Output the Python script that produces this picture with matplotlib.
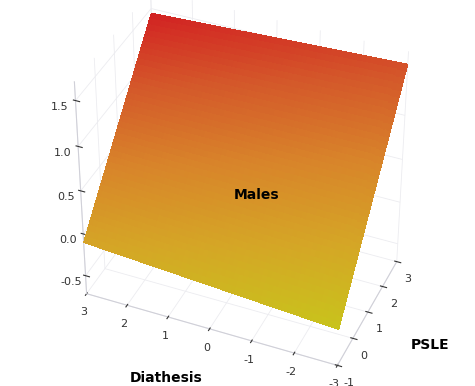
import numpy as np
import matplotlib.pyplot as plt
from matplotlib.colors import LinearSegmentedColormap, Normalize

plt.rcParams['axes.unicode_minus'] = False

# fitted surface:
# z = b0 + b1*Diathesis + b2*PSLE + b3*Diathesis*PSLE
diathesis = [3, 2, 1, 0, -1, -2, -3]
psle = [-1, 0, 1, 2, 3]
b0, b1, b2, b3 = 0.23, 0.019, 0.425, -0.0125
z_ticks = [-0.5, 0.0, 0.5, 1.0, 1.5]

D, P = np.meshgrid(np.linspace(-3, 3, 61), np.linspace(-1, 3, 41))
Z = b0 + b1 * D + b2 * P + b3 * D * P

cmap = LinearSegmentedColormap.from_list(
    'yr', ['#c9c21c', '#d5a526', '#d8842a', '#d4582a', '#d21f22'])

# colour follows the height on screen (horizontal bands like the original)
shade = 86 * Z + 29 * P + 13 * D
fc = cmap(Normalize(shade.min(), shade.max())(shade))

fig = plt.figure(figsize=(4.75, 3.86), dpi=100)
ax = fig.add_axes([-0.04, 0.0, 1.08, 1.06], projection='3d')

ax.plot_surface(D, P, Z, facecolors=fc, rstride=1, cstride=1,
                linewidth=0, antialiased=False, shade=False)

ax.set_xlim(3, -3)
ax.set_ylim(-1, 3)
ax.set_zlim(-0.72, 1.7)
ax.set_box_aspect((1.6, 1.0, 1.55))
ax.view_init(elev=38, azim=-67)

ax.set_xticks(diathesis)
ax.set_yticks(psle)
ax.set_zticks(z_ticks)
ax.set_zticklabels([f'{v:.1f}' for v in z_ticks])

# put the z axis on the left edge
ax.zaxis._axinfo['juggled'] = (1, 2, 0)

for a in (ax.xaxis, ax.yaxis, ax.zaxis):
    a.set_pane_color((1, 1, 1, 0))
    a.line.set_color('#d0d0d8')
    a._axinfo['grid']['color'] = '#ececf0'
    a._axinfo['grid']['linewidth'] = 0.6
ax.tick_params(labelsize=8, colors='#333333', pad=-1)

fig.text(0.35, 0.022, 'Diathesis', fontweight='bold', fontsize=10,
         ha='center', va='center')
fig.text(0.905, 0.105, 'PSLE', fontweight='bold', fontsize=10,
         ha='center', va='center')
fig.text(0.54, 0.495, 'Males', fontweight='bold', fontsize=10,
         ha='center', va='center')

plt.savefig('out.png', dpi=100)
